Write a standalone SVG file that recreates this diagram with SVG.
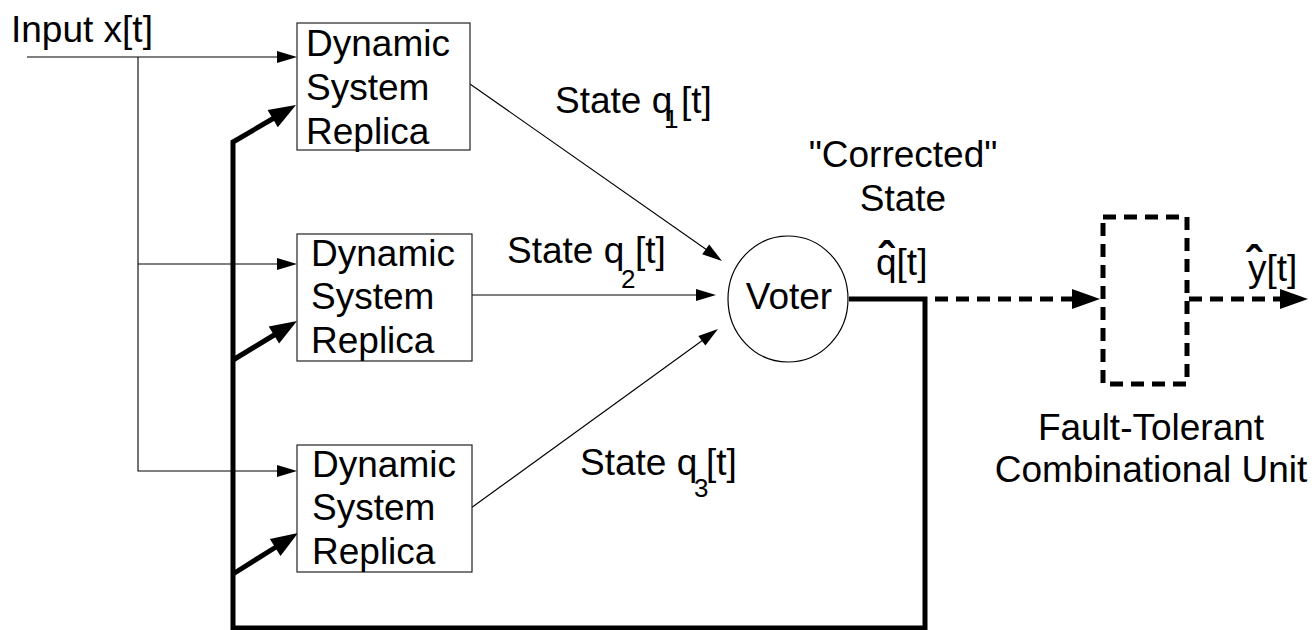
<svg xmlns="http://www.w3.org/2000/svg" width="1314" height="630" viewBox="0 0 1314 630">
  <style>
    text { font-family: "Liberation Sans", Arial, sans-serif; font-size: 37px; fill: #000; }
    .sub { font-size: 26px; }
    .hat { font-weight: bold; font-size: 46px; }
    .box { fill: #fff; stroke: #222; stroke-width: 1.2; }
    .voter { fill: #fff; stroke: #000; stroke-width: 1.2; }
    .thin { fill: none; stroke: #000; stroke-width: 1.1; }
    .thick { fill: none; stroke: #000; stroke-width: 5; stroke-linejoin: miter; }
    .dash { fill: none; stroke: #000; stroke-width: 5; stroke-dasharray: 13 8; }
    .head { fill: #000; stroke: none; }
  </style>

  <!-- connectors -->
  <g id="connectors">
    <!-- input distribution -->
    <line class="thin" x1="27" y1="57" x2="279" y2="57"/>
    <polyline class="thin" points="138,57 138,471 279,471"/>
    <line class="thin" x1="138" y1="264" x2="279" y2="264"/>
    <polygon class="head" points="297,57 277,51 277,63"/>
    <polygon class="head" points="297,264 277,258 277,270"/>
    <polygon class="head" points="297,471 277,465 277,477"/>

    <!-- replica states to voter -->
    <line class="thin" x1="470" y1="84" x2="707" y2="250"/>
    <polygon class="head" points="722,261 702.2,254.3 709.2,244.5"/>
    <line class="thin" x1="471" y1="295" x2="698" y2="295"/>
    <polygon class="head" points="716,295 696,289 696,301"/>
    <line class="thin" x1="471" y1="508" x2="703" y2="340"/>
    <polygon class="head" points="718,329 705.4,345.6 698.3,336"/>

    <!-- corrected state fed back to every replica -->
    <polyline class="thick" points="849,299 925,299 925,628 233,628 233,142 274,118"/>
    <polygon class="head" points="296,105 277.8,127.3 267.6,110.1"/>
    <line class="thick" x1="233" y1="360" x2="275" y2="334.5"/>
    <polygon class="head" points="297,321 279.1,343.6 268.7,326.6"/>
    <line class="thick" x1="233" y1="574" x2="276" y2="547"/>
    <polygon class="head" points="298,533 280.5,555.9 269.9,538.9"/>

    <!-- corrected state into combinational unit and out -->
    <line class="dash" x1="935" y1="299" x2="1074" y2="299"/>
    <polygon class="head" points="1100,299 1072,289 1072,309"/>
    <line class="dash" x1="1189" y1="299" x2="1282" y2="299"/>
    <polygon class="head" points="1308,299 1280,289 1280,309"/>
  </g>

  <text x="11" y="42">Input x[t]</text>

  <g id="replica1">
    <rect class="box" x="297" y="23" width="173" height="127"/>
    <text x="306"><tspan x="306" y="56">Dynamic</tspan><tspan x="306" y="100">System</tspan><tspan x="306" y="144">Replica</tspan></text>
  </g>
  <g id="replica2">
    <rect class="box" x="297" y="234" width="175" height="127"/>
    <text x="311"><tspan x="311" y="266">Dynamic</tspan><tspan x="311" y="309">System</tspan><tspan x="311" y="353">Replica</tspan></text>
  </g>
  <g id="replica3">
    <rect class="box" x="297" y="445" width="175" height="127"/>
    <text x="312"><tspan x="312" y="477">Dynamic</tspan><tspan x="312" y="520">System</tspan><tspan x="312" y="564">Replica</tspan></text>
  </g>

  <!-- state labels -->
  <text x="555" y="113">State q<tspan class="sub" x="664" y="128">1</tspan><tspan x="681" y="113">[t]</tspan></text>
  <text x="507" y="263">State q<tspan class="sub" x="621" y="288">2</tspan><tspan x="635" y="263">[t]</tspan></text>
  <text x="580" y="475">State q<tspan class="sub" x="694" y="497">3</tspan><tspan x="706" y="475">[t]</tspan></text>

  <g id="voter">
    <ellipse class="voter" cx="788" cy="299" rx="60" ry="63"/>
    <text x="789" y="309" text-anchor="middle">Voter</text>
  </g>

  <text x="903" y="167" text-anchor="middle">"Corrected"</text>
  <text x="903" y="211" text-anchor="middle">State</text>
  <text x="876" y="275">q[t]<tspan class="hat" x="878.5" y="275">ˆ</tspan></text>

  <g id="combinational-unit">
    <rect class="dash" x="1103" y="217" width="84" height="167"/>
    <text x="1151" y="440" text-anchor="middle">Fault-Tolerant</text>
    <text x="1151" y="482" text-anchor="middle">Combinational Unit</text>
  </g>

  <text x="1248" y="281">y[t]<tspan class="hat" x="1246" y="279">ˆ</tspan></text>
</svg>
